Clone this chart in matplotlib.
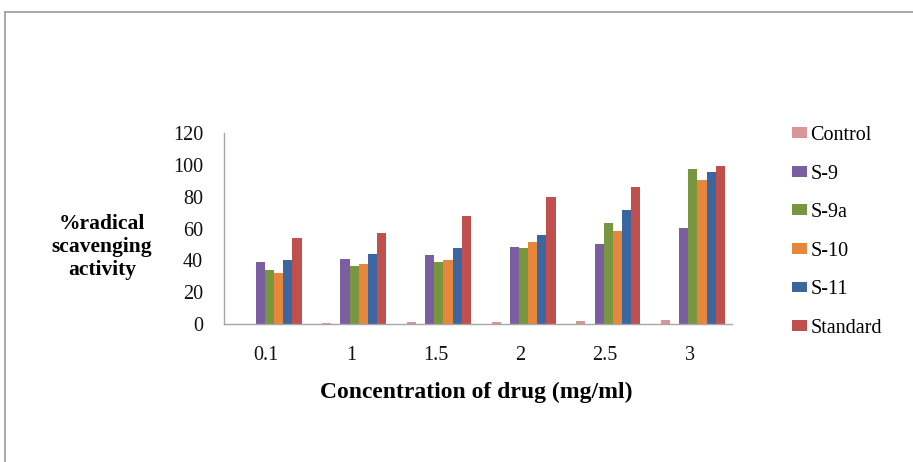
import matplotlib
matplotlib.use('Agg')
import matplotlib.pyplot as plt
from matplotlib.lines import Line2D
from matplotlib.patches import Patch
import numpy as np

# Concentrations and % radical scavenging per sample
concentrations = ['0.1', '1', '1.5', '2', '2.5', '3']
control  = [0.3, 0.6, 1.2, 1.2, 1.9, 2.5]
s9       = [38.8, 40.6, 43.2, 48.4, 50.3, 60.5]
s9a      = [33.7, 36.2, 38.8, 47.7, 63.6, 97.4]
s10      = [31.8, 37.5, 40.0, 51.5, 58.4, 90.5]
s11      = [40.0, 43.8, 47.7, 55.9, 71.4, 95.5]
standard = [54.2, 57.2, 68.0, 79.6, 86.0, 99.4]

series_names = ['Control', 'S-9', 'S-9a', 'S-10', 'S-11', 'Standard']
series_values = [control, s9, s9a, s10, s11, standard]
colors = ['#D99694', '#7B5E9F', '#77963F', '#E6873B', '#3B66A0', '#C0504D']
# slot of each series inside a group (slot 1 stays empty)
slots = [0, 2, 3, 4, 5, 6]

plt.rcParams['font.family'] = 'Liberation Serif'

fig = plt.figure(figsize=(9.13, 4.62), dpi=100, facecolor='white')
ax = fig.add_axes([0.2453, 0.2987, 0.5565, 0.4134])

x = np.arange(len(concentrations))
bar_w = 0.108
start = -0.34
for name, vals, col, slot in zip(series_names, series_values, colors, slots):
    ax.bar(x + start + slot * bar_w, vals, width=bar_w, align='edge',
           color=col, edgecolor='none', label=name)

ax.set_xlim(-0.5, len(concentrations) - 0.5)
ax.set_ylim(0, 120)
ax.set_yticks(range(0, 121, 20))
ax.set_xticks(x)
ax.set_xticklabels(concentrations)
ax.tick_params(length=0, labelsize=14.5, colors='#111111')
ax.tick_params(axis='y', pad=15)
ax.tick_params(axis='x', pad=16)
for side in ['top', 'right']:
    ax.spines[side].set_visible(False)
for side in ['left', 'bottom']:
    ax.spines[side].set_color('#A6A6A6')
    ax.spines[side].set_linewidth(1.0)

fig.text(102 / 913, 1 - 247 / 462, '%radical\nscavenging\nactivity',
         ha='center', va='center', multialignment='center',
         fontsize=15.5, fontweight='bold', linespacing=1.2)
fig.text(476 / 913, 1 - 392 / 462, 'Concentration of drug (mg/ml)',
         ha='center', va='center', fontsize=17, fontweight='bold')

handles = [Patch(facecolor=c, edgecolor='none') for c in colors]
fig.legend(handles, series_names, loc='upper left',
           bbox_to_anchor=(792 / 913, 1 - 126 / 462), frameon=False,
           fontsize=14.5, handlelength=0.75, handleheight=0.45,
           handletextpad=0.15, labelspacing=0.97, borderaxespad=0,
           borderpad=0)

# outer chart border
fig.add_artist(Line2D([5 / 913, 5 / 913], [0, 1 - 12 / 462],
                      transform=fig.transFigure, color='#9A9A9A', lw=1.2))
fig.add_artist(Line2D([5 / 913, 1], [1 - 12 / 462, 1 - 12 / 462],
                      transform=fig.transFigure, color='#9A9A9A', lw=1.2))

fig.savefig('out.png', dpi=100, facecolor='white')
